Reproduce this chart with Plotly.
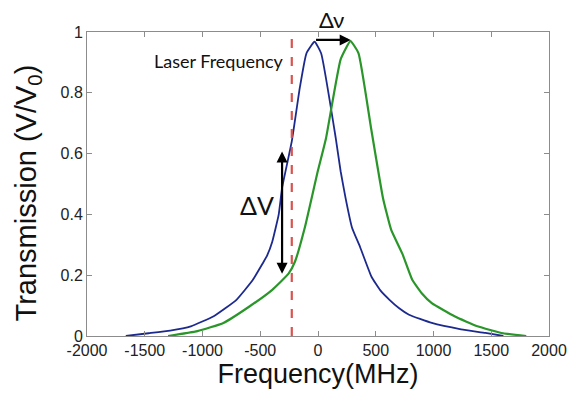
import plotly.graph_objects as go

# Blue curve (laser reference transmission)
blue_freq = [-1664, -1467, -1280, -1101, -903, -706, -565, -480, -440, -396, -340, -311, -227, -156, -100,
             -30, 27, 154, 196, 238, 294, 365, 463, 540, 619, 700, 788, 985, 1239, 1450, 1605]
blue_trans = [0.0, 0.009, 0.018, 0.032, 0.065, 0.119, 0.184, 0.238, 0.265, 0.31, 0.40, 0.487, 0.64, 0.82, 0.93,
              0.968, 0.93, 0.65, 0.542, 0.455, 0.357, 0.292, 0.195, 0.15, 0.119, 0.092, 0.07, 0.043, 0.022, 0.01, 0.0]

# Green curve (shifted transmission)
green_freq = [-1298, -1044, -819, -594, -396, -255, -199, -114, -2, 69, 196, 281, 351,
              461, 562, 633, 731, 816, 900, 985, 1182, 1380, 1603, 1803]
green_trans = [0.0, 0.016, 0.043, 0.097, 0.152, 0.205, 0.245, 0.357, 0.542, 0.65, 0.91, 0.97, 0.93,
               0.68, 0.455, 0.35, 0.27, 0.185, 0.14, 0.108, 0.065, 0.032, 0.009, 0.0]

laser_freq = -227
x_ticks = [-2000, -1500, -1000, -500, 0, 500, 1000, 1500, 2000]
x_labels = ["-2000", "-1500", "-1000", "-500", "0", "500", "1000", "1500", "2000"]
y_ticks = [0, 0.2, 0.4, 0.6, 0.8, 1]
y_labels = ["0", "0.2", "0.4", "0.6", "0.8", "1"]

fig = go.Figure()
fig.add_trace(go.Scatter(x=blue_freq, y=blue_trans, mode="lines",
                         line=dict(color="#1c2a8e", width=1.8, shape="spline", smoothing=0.4), showlegend=False))
fig.add_trace(go.Scatter(x=green_freq, y=green_trans, mode="lines",
                         line=dict(color="#2a962a", width=2.2, shape="spline", smoothing=0.4), showlegend=False))
fig.add_trace(go.Scatter(x=[laser_freq, laser_freq], y=[0, 1], mode="lines",
                         line=dict(color="#d9534f", width=2.2, dash="dash"), showlegend=False))

axis_common = dict(showline=True, linecolor="#8c8c8c", linewidth=1, mirror="ticks",
                   ticks="inside", ticklen=5, tickcolor="#8c8c8c", showgrid=False,
                   zeroline=False, tickfont=dict(family="Liberation Sans, Arial", size=16, color="#222"))

fig.update_layout(
    width=579, height=394,
    margin=dict(l=87, r=19, t=32, b=54),
    paper_bgcolor="white", plot_bgcolor="white",
    xaxis=dict(range=[-2000, 2000], tickvals=x_ticks, ticktext=x_labels,
               title=dict(text="Frequency(MHz)", font=dict(family="Liberation Sans, Arial", size=27, color="#111"), standoff=4),
               **axis_common),
    yaxis=dict(range=[0, 1], tickvals=y_ticks, ticktext=y_labels, **axis_common),
)

# Y axis title (placed to match the reference position)
fig.add_annotation(x=-0.127, y=0.47, xref="paper", yref="paper", text="Transmission (V/V<sub>0</sub>)",
                   textangle=-90, showarrow=False, xanchor="center", yanchor="middle",
                   font=dict(family="Liberation Sans, Arial", size=29, color="#111"))

# Laser Frequency label
fig.add_annotation(x=-280, y=0.903, xref="x", yref="y", text="Laser Frequency", showarrow=False,
                   xanchor="right", yanchor="middle", font=dict(family="Lato", size=18, color="#111"))

# Δν arrow
fig.add_annotation(x=283, y=0.974, ax=-30, ay=0.974, xref="x", yref="y", axref="x", ayref="y",
                   text="", showarrow=True, arrowhead=2, arrowsize=1, arrowwidth=2.2, arrowcolor="black")
fig.add_annotation(x=115, y=1.042, xref="x", yref="paper", text="Δν", showarrow=False,
                   font=dict(family="Lato", size=22, color="#111"), xanchor="center", yanchor="middle")

# ΔV double arrow
fig.add_annotation(x=-311, y=0.607, ax=-311, ay=0.20, xref="x", yref="y", axref="x", ayref="y",
                   text="", showarrow=True, arrowhead=2, startarrowhead=2, arrowside="end+start",
                   arrowsize=1, arrowwidth=2.2, arrowcolor="black")
fig.add_annotation(x=-530, y=0.43, xref="x", yref="y", text="ΔV", showarrow=False,
                   font=dict(family="Lato", size=25, color="#111"), xanchor="center", yanchor="middle")

fig.write_html("out.html")
